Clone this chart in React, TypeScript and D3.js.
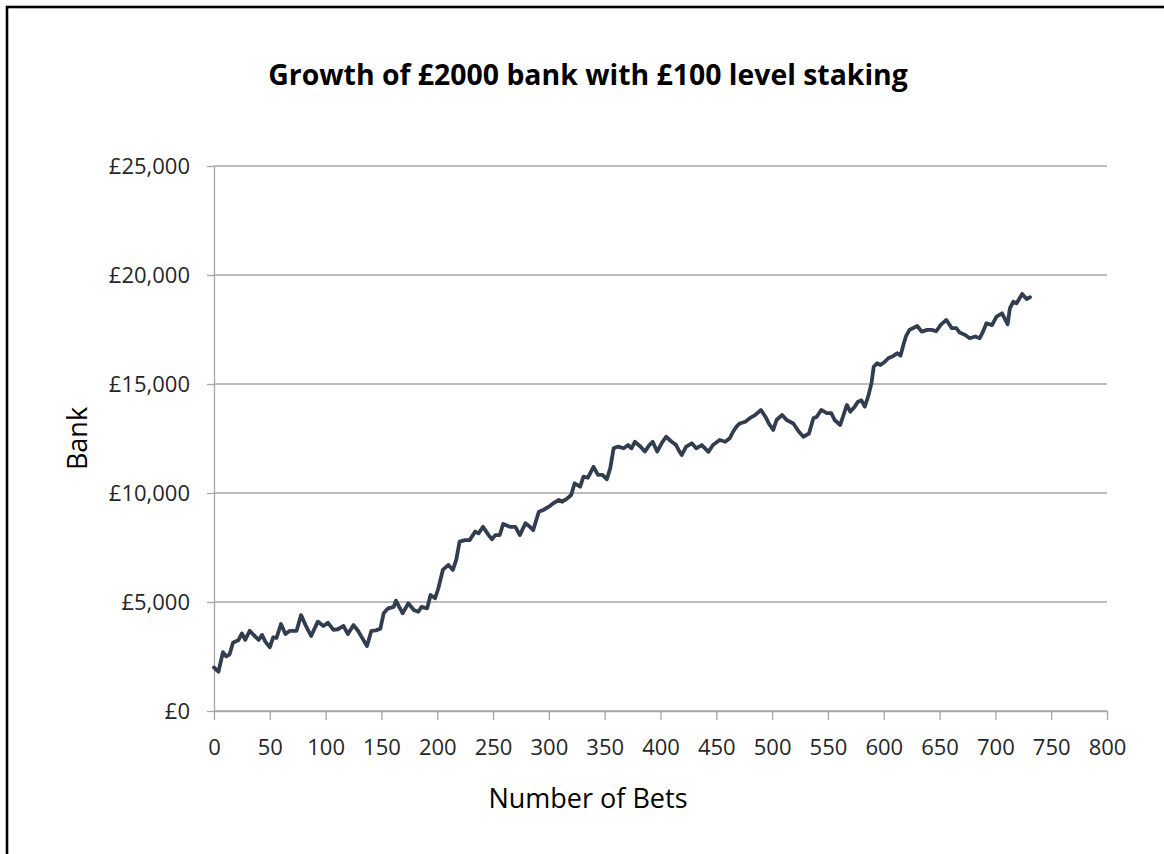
import React, { useEffect, useRef } from 'react';
import * as d3 from 'd3';

const WIDTH = 1164;
const HEIGHT = 854;
const MARGIN = { top: 166, right: 57, bottom: 143, left: 214 };

const TITLE = 'Growth of £2000 bank with £100 level staking';
const X_LABEL = 'Number of Bets';
const Y_LABEL = 'Bank';

const xTicks = [0, 50, 100, 150, 200, 250, 300, 350, 400, 450, 500, 550, 600, 650, 700, 750, 800];
const yTicks = [0, 5000, 10000, 15000, 20000, 25000];

// bet number
const bets = [
    0, 2, 4, 8, 11, 14, 17, 22, 25, 28, 32, 37, 40, 43, 46, 50, 53, 56, 60, 64,
    68, 74, 78, 82, 87, 93, 98, 102, 107, 111, 116, 120, 125, 129, 133, 137, 141, 145, 149, 152,
    156, 161, 163, 169, 174, 179, 183, 186, 191, 194, 198, 201, 205, 210, 214, 217, 220, 225, 229, 234,
    237, 241, 246, 249, 252, 256, 259, 265, 270, 274, 279, 283, 286, 291, 295, 300, 304, 309, 312, 316,
    320, 323, 328, 331, 335, 340, 344, 348, 352, 355, 358, 362, 367, 371, 374, 377, 382, 386, 390, 393,
    397, 401, 405, 410, 414, 417, 419, 423, 428, 432, 437, 443, 447, 453, 458, 462, 465, 468, 471, 476,
    480, 485, 490, 494, 497, 501, 504, 509, 513, 519, 524, 528, 533, 537, 540, 544, 549, 553, 556, 561,
    564, 567, 570, 574, 577, 580, 583, 586, 589, 591, 594, 597, 601, 604, 609, 612, 615, 618, 620, 623,
    626, 630, 634, 639, 643, 647, 651, 656, 661, 665, 668, 673, 677, 682, 686, 689, 692, 697, 701, 706,
    711, 713, 716, 719, 724, 728, 731
];

// bank balance after that bet
const bank = [
    2000, 1900, 1800, 2700, 2500, 2600, 3130, 3260, 3560, 3260, 3680, 3410, 3260, 3490, 3180, 2920, 3380, 3350, 3990, 3530,
    3680, 3680, 4400, 3940, 3440, 4100, 3900, 4050, 3720, 3750, 3900, 3530, 3940, 3680, 3330, 2980, 3680, 3700, 3770, 4480,
    4710, 4780, 5060, 4480, 4940, 4630, 4550, 4780, 4710, 5320, 5170, 5630, 6470, 6700, 6470, 6930, 7770, 7840, 7840, 8230,
    8150, 8450, 8070, 7880, 8070, 8070, 8580, 8450, 8450, 8070, 8610, 8450, 8300, 9140, 9220, 9370, 9530, 9680, 9600, 9730,
    9910, 10440, 10290, 10750, 10700, 11200, 10830, 10830, 10630, 11140, 12050, 12130, 12050, 12200, 12050, 12350, 12130, 11900, 12200, 12350,
    11900, 12280, 12580, 12350, 12200, 11900, 11740, 12130, 12280, 12050, 12200, 11890, 12200, 12430, 12350, 12510, 12810, 13040, 13190, 13270,
    13430, 13580, 13810, 13500, 13190, 12890, 13350, 13580, 13350, 13190, 12810, 12580, 12730, 13430, 13500, 13810, 13660, 13660, 13350, 13120,
    13580, 14040, 13730, 13960, 14190, 14250, 13960, 14420, 15030, 15790, 15950, 15870, 16020, 16180, 16300, 16410, 16300, 16870, 17200, 17480,
    17560, 17660, 17400, 17480, 17480, 17420, 17710, 17940, 17560, 17560, 17360, 17250, 17100, 17180, 17100, 17410, 17790, 17700, 18090, 18240,
    17740, 18470, 18770, 18700, 19130, 18900, 18980
];

const FONT = "'Open Sans', 'Noto Sans', sans-serif";
const GRID = '#a6a6a6';

const App = () => {
    const xAxisRef = useRef(null);
    const yAxisRef = useRef(null);

    const plotLeft = MARGIN.left;
    const plotRight = WIDTH - MARGIN.right;
    const plotTop = MARGIN.top;
    const plotBottom = HEIGHT - MARGIN.bottom;

    const xScale = d3.scaleLinear().domain([0, 800]).range([plotLeft, plotRight]);
    const yScale = d3.scaleLinear().domain([0, 25000]).range([plotBottom, plotTop]);

    const points = bets.map((b, i) => [b, bank[i]]);
    const line = d3.line()
        .x(d => xScale(d[0]))
        .y(d => yScale(d[1]));

    useEffect(() => {
        const xAxis = d3.axisBottom(xScale)
            .tickValues(xTicks)
            .tickSize(9)
            .tickSizeOuter(0)
            .tickFormat(d3.format('d'));
        const gx = d3.select(xAxisRef.current).call(xAxis);
        gx.select('.domain').attr('stroke', GRID).attr('stroke-width', 1.3);
        gx.selectAll('.tick line').attr('stroke', GRID).attr('stroke-width', 1.3);
        gx.selectAll('.tick text')
            .attr('y', 44)
            .attr('dy', 0)
            .attr('fill', '#262626')
            .style('font-family', FONT)
            .style('font-size', '22px');

        const yAxis = d3.axisLeft(yScale)
            .tickValues(yTicks)
            .tickSize(7)
            .tickSizeOuter(0)
            .tickFormat(d => '£' + d3.format(',')(d));
        const gy = d3.select(yAxisRef.current).call(yAxis);
        gy.select('.domain').attr('stroke', GRID).attr('stroke-width', 1.3);
        gy.selectAll('.tick line').attr('stroke', GRID).attr('stroke-width', 1.3);
        gy.selectAll('.tick text')
            .attr('x', -24)
            .attr('dy', '0.36em')
            .attr('fill', '#262626')
            .style('font-family', FONT)
            .style('font-size', '22px');
    }, []);

    return (
        <svg width={WIDTH} height={HEIGHT} style={{ position: 'absolute', left: 0, top: 0, background: '#fff' }}>
            <rect x={0} y={0} width={WIDTH} height={HEIGHT} fill="#fff" />
            <rect x={7} y={7} width={1400} height={1000} fill="none" stroke="#000" strokeWidth={2.6} />
            <g>
                {yTicks.map(t =>
                    <line key={t} x1={plotLeft} x2={plotRight} y1={yScale(t)} y2={yScale(t)} stroke={GRID} strokeWidth={1.3} />
                )}
            </g>
            <g ref={xAxisRef} transform={`translate(0, ${plotBottom})`} />
            <g ref={yAxisRef} transform={`translate(${plotLeft}, 0)`} />
            <path d={line(points)} fill="none" stroke="#323e50" strokeWidth={3.8} strokeLinejoin="round" strokeLinecap="round" />
            <text x={588} y={85} textAnchor="middle" fontFamily={FONT} fontWeight="bold" fontSize={28.4} fill="#000">{TITLE}</text>
            <text x={588} y={808} textAnchor="middle" fontFamily={FONT} fontSize={27} fill="#000">{X_LABEL}</text>
            <text transform={`translate(87, ${(plotTop + plotBottom) / 2}) rotate(-90)`} textAnchor="middle" fontFamily={FONT} fontSize={27} fill="#000">{Y_LABEL}</text>
        </svg>
    );
};

export default App;
